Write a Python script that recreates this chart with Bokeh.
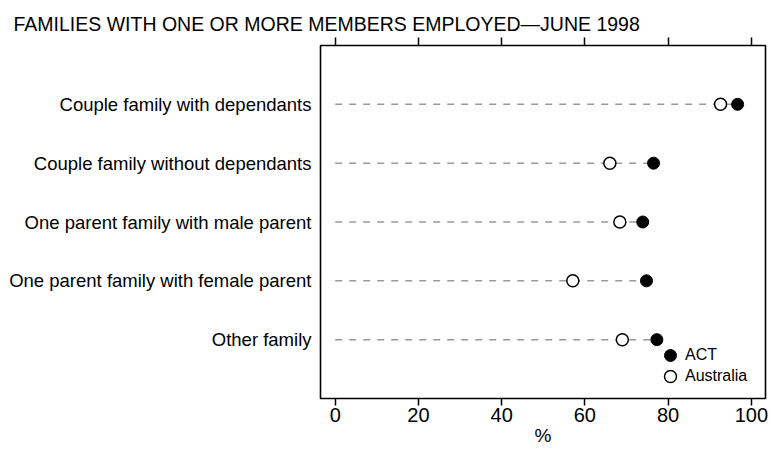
from bokeh.plotting import figure
from bokeh.models import (FactorRange, Range1d, LinearAxis, FixedTicker, Legend,
                          LegendItem, ColumnDataSource, CustomJSTickFormatter)
from bokeh.embed import file_html
from bokeh.resources import INLINE

# ---- data ----
categories = ["Couple family with dependants",
              "Couple family without dependants",
              "One parent family with male parent",
              "One parent family with female parent",
              "Other family"]
act = [96.7, 76.5, 73.9, 74.8, 77.3]
australia = [92.6, 66.0, 68.4, 57.1, 69.0]
x_ticks = [0, 20, 40, 60, 80, 100]
series_names = ["ACT", "Australia"]
x_label = "%"
title_text = "FAMILIES WITH ONE OR MORE MEMBERS EMPLOYED\u2014JUNE 1998"

FONT = "Liberation Sans"

factors = list(reversed(categories))
src = ColumnDataSource(dict(
    cat=categories,
    act=act,
    aus=australia,
    zero=[0] * len(categories),
    end=[max(a, b) for a, b in zip(act, australia)],
))

p = figure(width=771, height=452,
           x_range=Range1d(-3.53, 103.4),
           y_range=FactorRange(factors=factors, range_padding=0.2),
           output_backend="svg", toolbar_location=None,
           min_border_left=320, min_border_right=6,
           min_border_top=45, min_border_bottom=54,
           background_fill_color="white", border_fill_color="white")

p.xgrid.visible = False
p.ygrid.visible = False
p.outline_line_color = "black"
p.outline_line_width = 1.6

# title
p.title.text = title_text
p.title.text_font = FONT
p.title.text_font_size = "19.5px"
p.title.text_font_style = "normal"
p.title.text_color = "black"
p.title.align = "left"
p.title.offset = -307
p.title.standoff = 5

# bottom axis
xa = p.xaxis[0]
xa.ticker = FixedTicker(ticks=x_ticks)
xa.axis_line_color = None
xa.major_tick_out = 7
xa.major_tick_in = 0
xa.major_tick_line_color = "black"
xa.major_tick_line_width = 1.5
xa.minor_tick_line_color = None
xa.major_label_text_font = FONT
xa.major_label_text_font_size = "20px"
xa.major_label_text_color = "black"
xa.major_label_standoff = 2
xa.axis_label = x_label
xa.axis_label_text_font = FONT
xa.axis_label_text_font_size = "19px"
xa.axis_label_text_font_style = "normal"
xa.axis_label_text_color = "black"
xa.axis_label_standoff = 0

# top axis (ticks only)
top = LinearAxis(ticker=FixedTicker(ticks=x_ticks),
                 formatter=CustomJSTickFormatter(code="return ''"))
top.axis_line_color = None
top.major_tick_out = 8
top.major_tick_in = 0
top.major_tick_line_color = "black"
top.major_tick_line_width = 1.5
top.minor_tick_line_color = None
top.major_label_text_font_size = "0px"
top.major_label_standoff = 0
p.add_layout(top, "above")

# left axis
ya = p.yaxis[0]
ya.axis_line_color = None
ya.major_tick_line_color = None
ya.minor_tick_line_color = None
ya.major_tick_out = 0
ya.major_tick_in = 0
ya.major_label_text_font = FONT
ya.major_label_text_font_size = "18.5px"
ya.major_label_text_color = "black"
ya.major_label_standoff = 9

# dashed guide lines
p.segment(x0="zero", x1="end", y0="cat", y1="cat", source=src,
          line_color="#9a9a9a", line_width=1.5, line_dash="7 7")

r_aus = p.scatter(x="aus", y="cat", source=src, size=12, marker="circle",
                  fill_color="white", line_color="black", line_width=1.5)
r_act = p.scatter(x="act", y="cat", source=src, size=12, marker="circle",
                  fill_color="black", line_color="black", line_width=1)

# one legend box per entry so the rows sit close together
legend_style = dict(orientation="vertical", padding=0, margin=0, spacing=0,
                    glyph_width=30, glyph_height=30, label_standoff=-2,
                    border_line_color=None, background_fill_alpha=0,
                    label_text_font=FONT, label_text_font_size="16px",
                    label_text_color="black")
leg_act = Legend(items=[LegendItem(label=series_names[0], renderers=[r_act])],
                 location=(335, 28), **legend_style)
leg_aus = Legend(items=[LegendItem(label=series_names[1], renderers=[r_aus])],
                 location=(335, 7), **legend_style)
p.add_layout(leg_act, "center")
p.add_layout(leg_aus, "center")

open("out.html", "w").write(file_html(p, INLINE))
